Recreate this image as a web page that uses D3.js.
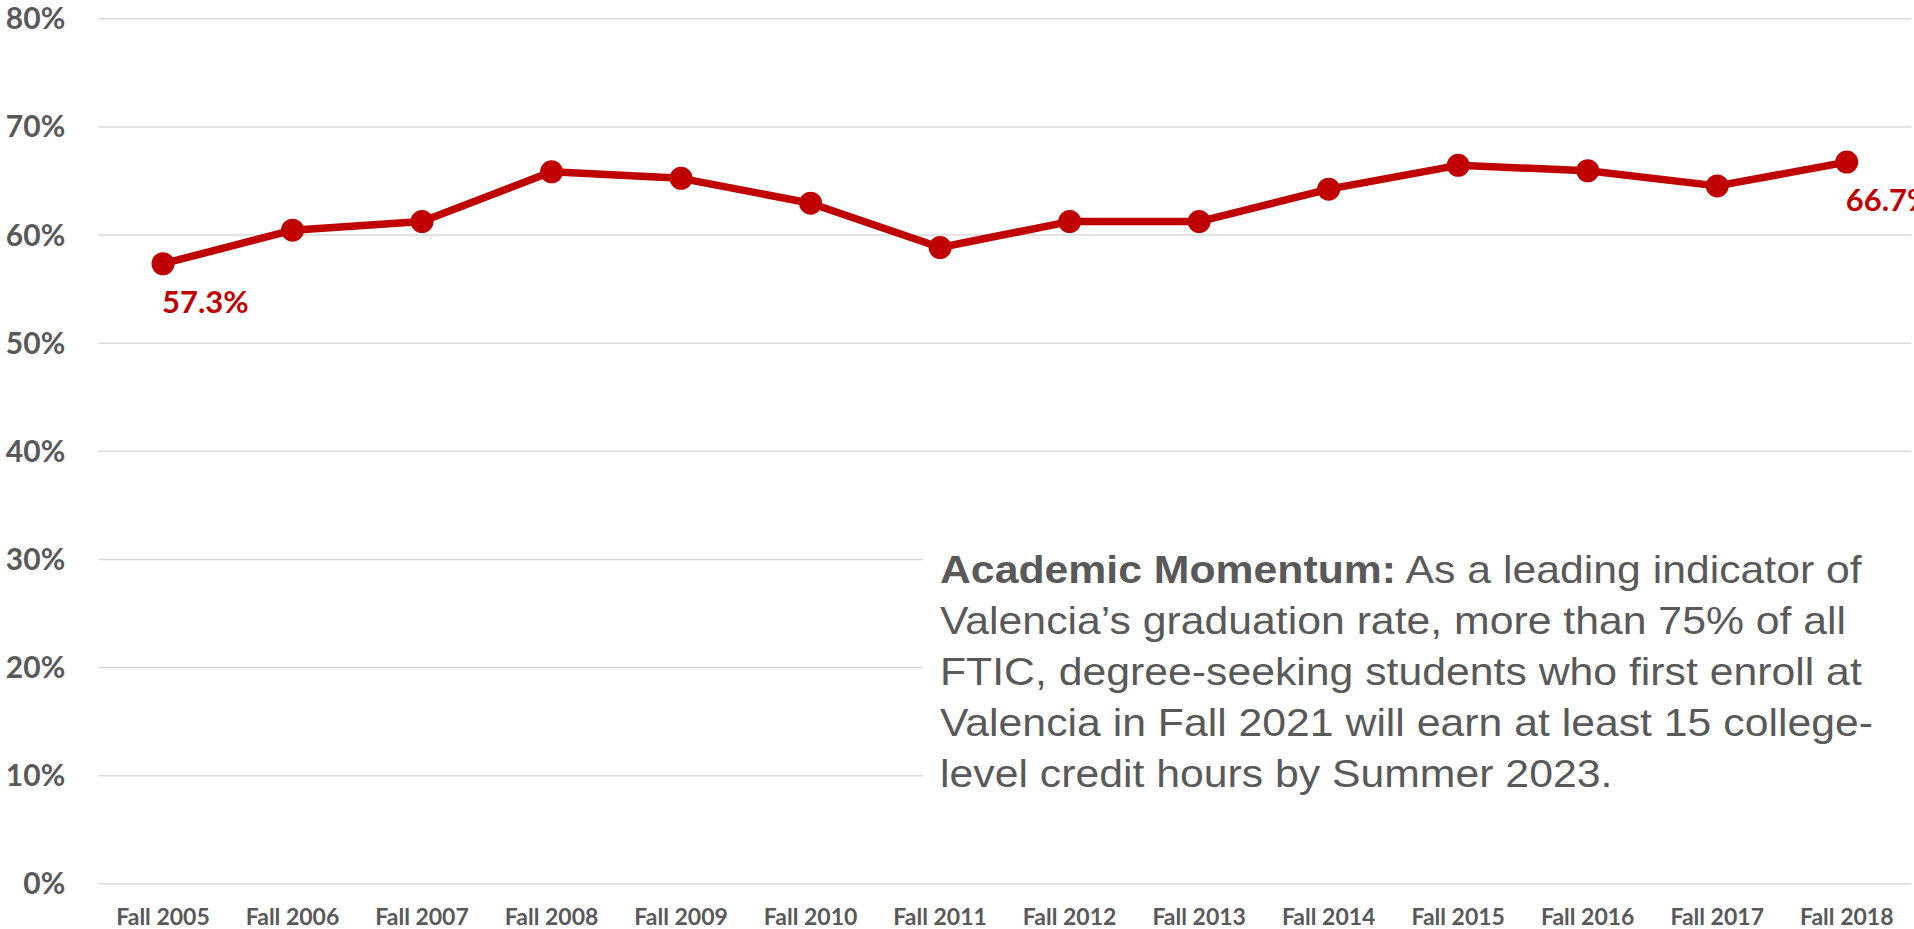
<!DOCTYPE html>
<html>
<head>
<meta charset="utf-8">
<script src="https://cdn.jsdelivr.net/npm/d3@7"></script>
<style>
  html, body { margin: 0; padding: 0; background: #ffffff; }
  svg { display: block; }
</style>
</head>
<body>
<svg id="chart" width="1914" height="929"></svg>
<script>
const categories = ["Fall 2005","Fall 2006","Fall 2007","Fall 2008","Fall 2009","Fall 2010","Fall 2011","Fall 2012","Fall 2013","Fall 2014","Fall 2015","Fall 2016","Fall 2017","Fall 2018"];
const values = [57.3, 60.4, 61.2, 65.8, 65.2, 62.9, 58.8, 61.2, 61.2, 64.2, 66.4, 65.9, 64.5, 66.7];
const yTicks = [0, 10, 20, 30, 40, 50, 60, 70, 80];
const labeledIndices = [0, 13];
const noteBold = "Academic Momentum:";
const noteLines = [
  " As a leading indicator of",
  "Valencia\u2019s graduation rate, more than 75% of all",
  "FTIC, degree-seeking students who first enroll at",
  "Valencia in Fall 2021 will earn at least 15 college-",
  "level credit hours by Summer 2023."
];

(function () {
const svg = d3.select("#chart");
const pLeft = 98.25, pRight = 1911.5, pTop = 18.3, pBottom = 883.3;
const red = "#C00000", gray = "#595959", grid = "#d9d9d9";

const x = d3.scaleBand().domain(categories).range([pLeft, pRight]).padding(0);
const y = d3.scaleLinear().domain([0, 80]).range([pBottom, pTop]);
const cx = d => x(d) + x.bandwidth() / 2;

// gridlines + y labels
const yAxis = d3.axisLeft(y).tickValues(yTicks).tickSize(-(pRight - pLeft)).tickFormat(d => d + "%");
const gy = svg.append("g").attr("transform", `translate(${pLeft},0)`).call(yAxis);
gy.select(".domain").remove();
gy.selectAll(".tick line").attr("stroke", grid).attr("stroke-width", 1.5);
gy.selectAll(".tick text")
  .attr("x", -33).attr("dy", "0.35em")
  .attr("fill", gray)
  .style("font-family", "Lato, 'Open Sans', sans-serif")
  .style("font-weight", "bold")
  .style("font-size", "30px")
  .attr("text-anchor", "end");

// x axis labels
const xAxis = d3.axisBottom(x).tickSize(0).tickPadding(0);
const gx = svg.append("g").attr("transform", `translate(0,${pBottom})`).call(xAxis);
gx.select(".domain").remove();
gx.selectAll(".tick text")
  .attr("y", 42).attr("dy", 0)
  .attr("fill", gray)
  .style("font-family", "Lato, 'Open Sans', sans-serif")
  .style("font-weight", "bold")
  .style("font-size", "23px");

// note box (covers gridlines)
const noteX = 940, noteY0 = 583, noteStep = 51, noteStretch = 1.125;
svg.append("rect")
  .attr("x", 923).attr("y", 510)
  .attr("width", 1914 - 923).attr("height", 295)
  .attr("fill", "#ffffff");

const note = svg.append("g")
  .attr("transform", `translate(${noteX},0) scale(${noteStretch},1)`)
  .append("text")
  .attr("fill", gray)
  .style("font-family", "'Liberation Sans', Arial, sans-serif")
  .style("font-size", "38px");
noteLines.forEach((ln, i) => {
  if (i === 0) {
    note.append("tspan").attr("x", 0).attr("y", noteY0)
      .style("font-weight", "bold").text(noteBold);
    note.append("tspan").text(ln);
  } else {
    note.append("tspan").attr("x", 0).attr("y", noteY0 + i * noteStep).text(ln);
  }
});

// line
const line = d3.line().x((d, i) => cx(categories[i])).y(d => y(d));
svg.append("path")
  .datum(values)
  .attr("d", line)
  .attr("fill", "none")
  .attr("stroke", red)
  .attr("stroke-width", 7.5)
  .attr("stroke-linejoin", "round");

svg.selectAll("circle.pt")
  .data(values)
  .enter().append("circle")
  .attr("class", "pt")
  .attr("cx", (d, i) => cx(categories[i]))
  .attr("cy", d => y(d))
  .attr("r", 11.5)
  .attr("fill", red);

// data labels
svg.selectAll("text.dl")
  .data(labeledIndices)
  .enter().append("text")
  .attr("class", "dl")
  .attr("x", i => cx(categories[i]) - 1)
  .attr("y", i => y(values[i]) + 49)
  .attr("fill", red)
  .style("font-family", "Lato, 'Open Sans', sans-serif")
  .style("font-weight", "bold")
  .style("font-size", "31px")
  .text(i => values[i].toFixed(1) + "%");
})();
</script>
</body>
</html>
